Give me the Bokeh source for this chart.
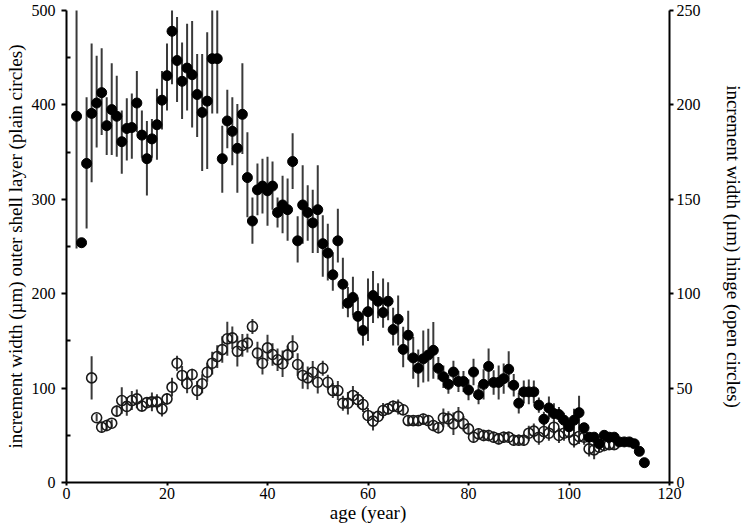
from bokeh.plotting import figure
from bokeh.models import Range1d, LinearAxis, ColumnDataSource, FixedTicker
from bokeh.embed import file_html
from bokeh.resources import INLINE

# ---- data: outer shell layer (filled circles, left axis) ----
outer_age = list(range(2, 116))
outer_val = [388, 254, 338, 391, 402, 413, 378, 395, 388, 361,
             375, 376, 402, 368, 343, 364, 379, 405, 431, 478,
             447, 425, 439, 432, 411, 392, 404, 449, 449, 343,
             383, 372, 354, 390, 323, 277, 310, 314, 309, 314,
             286, 294, 289, 340, 256, 294, 286, 275, 289, 253,
             243, 220, 256, 210, 190, 196, 176, 161, 181, 198,
             192, 180, 192, 162, 173, 141, 156, 132, 121, 131,
             135, 140, 121, 112, 104, 117, 107, 107, 98, 117,
             93, 104, 123, 106, 106, 110, 120, 103, 84, 96,
             96, 96, 82, 67, 79, 73, 72, 66, 59, 66,
             74, 58, 48, 48, 41, 50, 48, 48, 43, 43,
             43, 41, 33, 21]
outer_lo = [248, 249, 269, 318, 355, 368, 347, 347, 345, 327,
            341, 343, 371, 344, 304, 344, 342, 374, 394, 422,
            403, 385, 394, 376, 366, 330, 332, 391, 391, 307,
            354, 336, 307, 348, 281, 253, 283, 285, 272, 289,
            270, 264, 256, 311, 233, 253, 256, 243, 243, 218,
            214, 203, 233, 184, 175, 177, 161, 145, 150, 169,
            174, 164, 172, 145, 145, 122, 130, 110, 101, 106,
            107, 110, 109, 100, 94, 105, 96, 96, 87, 103,
            83, 88, 104, 93, 88, 94, 101, 91, 73, 84,
            83, 84, 74, 59, 67, 62, 64, 58, 52, 54,
            56, 54, 44, 44, 37, 46, 44, 44, 39, 39,
            39, 37, 29, 17]
outer_hi = [560, 259, 408, 465, 452, 460, 408, 444, 431, 394,
            407, 412, 436, 394, 383, 385, 417, 436, 465, 530,
            493, 466, 486, 489, 454, 454, 477, 520, 520, 378,
            416, 408, 401, 444, 371, 302, 338, 343, 345, 340,
            302, 325, 322, 370, 282, 336, 315, 310, 336, 283,
            274, 244, 290, 238, 207, 218, 196, 182, 216, 224,
            211, 216, 212, 185, 198, 165, 182, 154, 141, 161,
            163, 170, 133, 124, 114, 129, 118, 118, 109, 131,
            103, 120, 142, 119, 124, 126, 139, 115, 95, 108,
            109, 108, 90, 75, 91, 84, 80, 74, 66, 78,
            92, 62, 52, 52, 45, 54, 52, 52, 47, 47,
            47, 45, 37, 25]

# ---- data: hinge (open circles, right axis) ----
hinge_age = list(range(5, 110))
hinge_val = [55.4, 34.3, 29.3, 30.2, 31.4, 37.8, 43.4, 40.3, 43.4, 44.3,
             40.5, 42.3, 42.7, 42.7, 39.0, 44.3, 50.5, 63.2, 56.7, 52.3,
             57.2, 48.7, 52.3, 58.4, 63.2, 66.7, 70.4, 76.1, 76.6, 69.5,
             72.6, 73.8, 82.6, 68.5, 63.2, 71.3, 67.8, 65.0, 62.9, 67.6,
             72.0, 62.5, 56.7, 55.4, 58.4, 53.1, 60.5, 53.1, 48.7, 48.7,
             42.0, 42.0, 46.1, 43.9, 41.3, 35.5, 32.5, 35.0, 38.1, 39.0,
             40.4, 40.0, 38.5, 32.8, 32.8, 32.8, 33.6, 32.8, 30.2, 29.0,
             34.2, 33.7, 31.1, 35.0, 31.1, 28.4, 24.0, 25.8, 24.9, 24.9,
             24.0, 23.1, 24.0, 24.0, 22.4, 22.4, 22.4, 26.1, 27.2, 24.0,
             27.0, 26.1, 29.3, 24.9, 26.1, 26.7, 22.6, 24.4, 24.0, 17.8,
             17.3, 18.7, 19.6, 20.1, 20.1]
hinge_err = [11.5, 2, 3, 3, 2, 3, 7, 5, 5, 5,
             3, 3, 5, 4, 4, 3, 5, 4, 5, 5,
             3, 5, 5, 5, 6, 6, 7, 9, 6, 8,
             6, 5, 4, 6, 6, 7, 6, 6, 7, 5,
             6, 6, 7, 6, 6, 6, 4, 4, 4, 5,
             4, 6, 5, 4, 4, 4, 5, 3, 4, 3,
             3, 4, 3, 3, 3, 3, 3, 3, 3, 3,
             5, 4, 6, 5, 4, 3, 3, 3, 3, 3,
             3, 3, 3, 3, 3, 3, 3, 4, 4, 4,
             4, 4, 4, 4, 4, 4, 4, 4, 4, 4,
             5, 3, 3, 3, 3]

x_ticks = [0, 20, 40, 60, 80, 100, 120]
left_ticks = [0, 100, 200, 300, 400, 500]
left_minor = [50, 150, 250, 350, 450]
right_ticks = [0, 50, 100, 150, 200, 250]

FONT = "Liberation Serif"

outer_src = ColumnDataSource(dict(age=outer_age, val=outer_val, lo=outer_lo, hi=outer_hi))
hinge_src = ColumnDataSource(dict(
    age=hinge_age, val=hinge_val,
    lo=[v - e for v, e in zip(hinge_val, hinge_err)],
    hi=[v + e for v, e in zip(hinge_val, hinge_err)]))

p = figure(width=746, height=525, output_backend="svg", toolbar_location=None,
           x_range=Range1d(0, 120), y_range=Range1d(0, 500),
           min_border_left=66, min_border_right=71, min_border_top=10, min_border_bottom=43)
p.extra_y_ranges = {"hinge": Range1d(0, 250)}
p.outline_line_color = None
p.grid.visible = False
p.background_fill_color = "white"
p.border_fill_color = "white"

def style_axis(ax):
    ax.axis_line_width = 2
    ax.axis_line_color = "black"
    ax.major_tick_line_width = 2
    ax.minor_tick_line_width = 2
    ax.major_tick_line_color = "black"
    ax.minor_tick_line_color = "black"
    ax.major_label_text_font = FONT
    ax.major_label_text_font_size = "16px"
    ax.major_label_text_color = "black"
    ax.axis_label_text_font = FONT
    ax.axis_label_text_font_size = "19px"
    ax.axis_label_text_font_style = "normal"
    ax.axis_label_text_color = "black"

xa = p.xaxis[0]
style_axis(xa)
xa.ticker = FixedTicker(ticks=x_ticks)
xa.major_tick_out = 3
xa.major_tick_in = 0
xa.minor_tick_out = 0
xa.minor_tick_in = 0
xa.major_label_standoff = 2
xa.axis_label = "age (year)"
xa.axis_label_standoff = 0

ya = p.yaxis[0]
style_axis(ya)
ya.ticker = FixedTicker(ticks=left_ticks, minor_ticks=left_minor)
ya.major_tick_out = 5
ya.major_tick_in = 0
ya.minor_tick_out = 0
ya.minor_tick_in = 4
ya.major_label_standoff = 6
ya.axis_label = "increment width (µm) outer shell layer (plain circles)"
ya.axis_label_standoff = 3

ra = LinearAxis(y_range_name="hinge", ticker=FixedTicker(ticks=right_ticks))
style_axis(ra)
ra.major_tick_out = 4
ra.major_tick_in = 0
ra.minor_tick_out = 0
ra.minor_tick_in = 0
ra.major_label_standoff = 3
ra.axis_label = "increment width (µm) hinge (open circles)"
ra.axis_label_standoff = 19
p.add_layout(ra, "right")

# error bars
p.segment(x0="age", y0="lo", x1="age", y1="hi", source=hinge_src, y_range_name="hinge",
          line_color="#3a3a3a", line_width=2)
p.segment(x0="age", y0="lo", x1="age", y1="hi", source=outer_src,
          line_color="#3a3a3a", line_width=2)
# markers
p.scatter(x="age", y="val", source=hinge_src, y_range_name="hinge", size=10,
          fill_color=None, line_color="#1a1a1a", line_width=1.6)
p.scatter(x="age", y="val", source=outer_src, size=10,
          fill_color="black", line_color="black")

open("out.html", "w").write(file_html(p, INLINE))
